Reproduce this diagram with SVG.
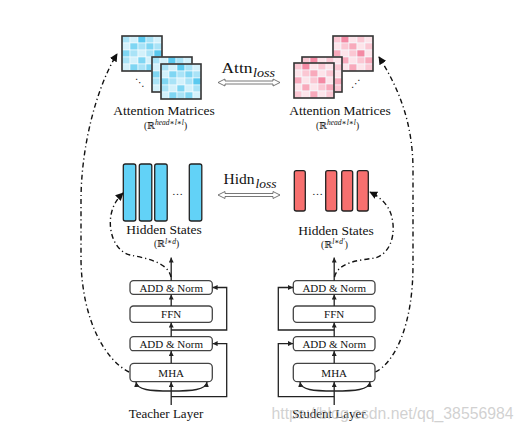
<svg xmlns="http://www.w3.org/2000/svg" xmlns:xlink="http://www.w3.org/1999/xlink" width="524" height="439" viewBox="0 0 524 439">
<style>
.t{font-family:"Liberation Serif","DejaVu Serif",serif;fill:#111;text-anchor:middle}
.box{fill:#fff;stroke:#444;stroke-width:1.3}
.ln{fill:none;stroke:#222;stroke-width:1.3}
.dd{fill:none;stroke:#111;stroke-width:1.4;stroke-dasharray:5 3 1.2 3}
.hb{fill:#62d2f7;stroke:#222;stroke-width:1.3}
.hr{fill:#f7706f;stroke:#222;stroke-width:1.3}
.dbl{fill:#fff;stroke:#555;stroke-width:0.8}
.cb rect,.cp rect{stroke:#f3fbfe;stroke-width:0.6}
.frame{fill:none;stroke:#333;stroke-width:1.6}
</style>
<defs>
<marker id="ah" viewBox="0 0 10 10" refX="10" refY="5" markerWidth="5" markerHeight="5" markerUnits="userSpaceOnUse" orient="auto"><path d="M0,0 L10,5 L0,10 z" fill="#222"/></marker>
<marker id="ahb" viewBox="0 0 10 10" refX="9" refY="5" markerWidth="8" markerHeight="8" markerUnits="userSpaceOnUse" orient="auto"><path d="M0,0 L10,5 L0,10 z" fill="#111"/></marker>
<g id="mb">
<g class="cb">
<rect x="0" y="0" width="8" height="7" fill="#a9e3f7"/><rect x="8" y="0" width="8" height="7" fill="#d3f1fb"/><rect x="16" y="0" width="8" height="7" fill="#5ac9ef"/><rect x="24" y="0" width="8" height="7" fill="#a9e3f7"/><rect x="32" y="0" width="8" height="7" fill="#d3f1fb"/>
<rect x="0" y="7" width="8" height="7" fill="#d3f1fb"/><rect x="8" y="7" width="8" height="7" fill="#7fd6f3"/><rect x="16" y="7" width="8" height="7" fill="#a9e3f7"/><rect x="24" y="7" width="8" height="7" fill="#7fd6f3"/><rect x="32" y="7" width="8" height="7" fill="#a9e3f7"/>
<rect x="0" y="14" width="8" height="7" fill="#7fd6f3"/><rect x="8" y="14" width="8" height="7" fill="#a9e3f7"/><rect x="16" y="14" width="8" height="7" fill="#d3f1fb"/><rect x="24" y="14" width="8" height="7" fill="#a9e3f7"/><rect x="32" y="14" width="8" height="7" fill="#5ac9ef"/>
<rect x="0" y="21" width="8" height="7" fill="#a9e3f7"/><rect x="8" y="21" width="8" height="7" fill="#d3f1fb"/><rect x="16" y="21" width="8" height="7" fill="#7fd6f3"/><rect x="24" y="21" width="8" height="7" fill="#d3f1fb"/><rect x="32" y="21" width="8" height="7" fill="#a9e3f7"/>
<rect x="0" y="28" width="8" height="7" fill="#d3f1fb"/><rect x="8" y="28" width="8" height="7" fill="#7fd6f3"/><rect x="16" y="28" width="8" height="7" fill="#a9e3f7"/><rect x="24" y="28" width="8" height="7" fill="#7fd6f3"/><rect x="32" y="28" width="8" height="7" fill="#d3f1fb"/>
</g>
<rect class="frame" x="0" y="0" width="40" height="35"/>
</g>
<g id="mp">
<g class="cp">
<rect x="0" y="0" width="8" height="7" fill="#fbc7d3"/><rect x="8" y="0" width="8" height="7" fill="#f48aa4"/><rect x="16" y="0" width="8" height="7" fill="#fde4ea"/><rect x="24" y="0" width="8" height="7" fill="#fbc7d3"/><rect x="32" y="0" width="8" height="7" fill="#fde4ea"/>
<rect x="0" y="7" width="8" height="7" fill="#fde4ea"/><rect x="8" y="7" width="8" height="7" fill="#fbc7d3"/><rect x="16" y="7" width="8" height="7" fill="#f8a9bb"/><rect x="24" y="7" width="8" height="7" fill="#fde4ea"/><rect x="32" y="7" width="8" height="7" fill="#fbc7d3"/>
<rect x="0" y="14" width="8" height="7" fill="#f8a9bb"/><rect x="8" y="14" width="8" height="7" fill="#fde4ea"/><rect x="16" y="14" width="8" height="7" fill="#fbc7d3"/><rect x="24" y="14" width="8" height="7" fill="#f48aa4"/><rect x="32" y="14" width="8" height="7" fill="#fde4ea"/>
<rect x="0" y="21" width="8" height="7" fill="#fde4ea"/><rect x="8" y="21" width="8" height="7" fill="#f8a9bb"/><rect x="16" y="21" width="8" height="7" fill="#fde4ea"/><rect x="24" y="21" width="8" height="7" fill="#fbc7d3"/><rect x="32" y="21" width="8" height="7" fill="#f8a9bb"/>
<rect x="0" y="28" width="8" height="7" fill="#fbc7d3"/><rect x="8" y="28" width="8" height="7" fill="#fde4ea"/><rect x="16" y="28" width="8" height="7" fill="#f8a9bb"/><rect x="24" y="28" width="8" height="7" fill="#fde4ea"/><rect x="32" y="28" width="8" height="7" fill="#fbc7d3"/>
</g>
<rect class="frame" x="0" y="0" width="40" height="35"/>
</g>
</defs>
<rect width="524" height="439" fill="#fff"/>

<g id="teacher-attention">
<use href="#mb" x="122" y="36"/>
<use href="#mb" x="152" y="57"/>
<use href="#mb" x="161" y="64"/>
<text x="140" y="86" style="font-family:'DejaVu Sans',sans-serif;font-size:10px;fill:#222" text-anchor="middle">⋱</text>
<text class="t" x="164" y="115" font-size="13.5">Attention Matrices</text>
<text class="t" x="165.5" y="128.5" font-size="9.5">(ℝ<tspan dy="-3.5" font-size="7.5" font-style="italic">head∗l∗l</tspan><tspan dy="3.5">)</tspan></text>
</g>

<g id="student-attention">
<use href="#mp" x="333" y="36"/>
<use href="#mp" x="302" y="57"/>
<use href="#mp" x="294" y="63"/>
<text x="356" y="87" style="font-family:'DejaVu Sans',sans-serif;font-size:10px;fill:#222" text-anchor="middle">⋰</text>
<text class="t" x="340" y="114.5" font-size="13.5">Attention Matrices</text>
<text class="t" x="337.5" y="128.5" font-size="9.5">(ℝ<tspan dy="-3.5" font-size="7.5" font-style="italic">head∗l∗l</tspan><tspan dy="3.5">)</tspan></text>
</g>

<g id="attn-loss">
<text class="t" x="237" y="73" font-size="14.5" textLength="31" lengthAdjust="spacingAndGlyphs">Attn</text>
<text class="t" x="264" y="76.5" font-size="12" font-style="italic" textLength="22" lengthAdjust="spacingAndGlyphs">loss</text>
<polygon class="dbl" points="218,82.5 225,79 225,81 273,81 273,79 280,82.5 273,86 273,84 225,84 225,86"/>
</g>

<g id="teacher-hidden">
<rect class="hb" x="123.3" y="164" width="12.5" height="57" rx="2"/>
<rect class="hb" x="139.3" y="164" width="12.5" height="57" rx="2"/>
<rect class="hb" x="154.7" y="164" width="12.5" height="57" rx="2"/>
<rect class="hb" x="189.3" y="164" width="12.5" height="57" rx="2"/>
<text class="t" x="177.5" y="195" font-size="11">…</text>
<text class="t" x="164" y="234" font-size="13.5">Hidden States</text>
<text class="t" x="166.5" y="247" font-size="9.5">(ℝ<tspan dy="-3.5" font-size="7.5" font-style="italic">l∗d</tspan><tspan dy="3.5">)</tspan></text>
</g>

<g id="student-hidden">
<rect class="hr" x="294.3" y="170.7" width="11" height="40.3" rx="2"/>
<rect class="hr" x="325.7" y="170.7" width="11" height="40.3" rx="2"/>
<rect class="hr" x="341.7" y="170.7" width="11" height="40.3" rx="2"/>
<rect class="hr" x="357.3" y="170.7" width="11" height="40.3" rx="2"/>
<text class="t" x="317.5" y="195" font-size="11">…</text>
<text class="t" x="336" y="234.5" font-size="13.5">Hidden States</text>
<text class="t" x="334.5" y="247.5" font-size="9.5">(ℝ<tspan dy="-3.5" font-size="7.5" font-style="italic">l∗d′</tspan><tspan dy="3.5">)</tspan></text>
</g>

<g id="hidn-loss">
<text class="t" x="239" y="184" font-size="14.5" textLength="31" lengthAdjust="spacingAndGlyphs">Hidn</text>
<text class="t" x="266" y="188" font-size="12" font-style="italic" textLength="21" lengthAdjust="spacingAndGlyphs">loss</text>
<polygon class="dbl" points="218,195 225,191.5 225,193.5 273,193.5 273,191.5 280,195 273,198.5 273,196.5 225,196.5 225,198.5"/>
</g>

<g id="t-addnorm1"><rect class="box" x="130" y="280.7" width="82.3" height="13.6" rx="3.5"/><text class="t" x="171.2" y="291.5" font-size="11">ADD &amp; Norm</text></g>
<g id="t-ffn"><rect class="box" x="130" y="306" width="82.3" height="16.3" rx="3.5"/><text class="t" x="171.2" y="318" font-size="11">FFN</text></g>
<g id="t-addnorm2"><rect class="box" x="130" y="336.7" width="82.3" height="14" rx="3.5"/><text class="t" x="171.2" y="347.5" font-size="11">ADD &amp; Norm</text></g>
<g id="t-mha"><rect class="box" x="130" y="363.3" width="82.3" height="18.4" rx="4"/><text class="t" x="171.2" y="376.5" font-size="11">MHA</text></g>
<g id="t-label"><text class="t" x="166" y="418" font-size="13">Teacher Layer</text></g>

<g id="s-addnorm1"><rect class="box" x="293.3" y="280.7" width="81.7" height="13.6" rx="3.5"/><text class="t" x="334.2" y="291.5" font-size="11">ADD &amp; Norm</text></g>
<g id="s-ffn"><rect class="box" x="293.3" y="306" width="81.7" height="16.3" rx="3.5"/><text class="t" x="334.2" y="318" font-size="11">FFN</text></g>
<g id="s-addnorm2"><rect class="box" x="293.3" y="336.7" width="81.7" height="14" rx="3.5"/><text class="t" x="334.2" y="347.5" font-size="11">ADD &amp; Norm</text></g>
<g id="s-mha"><rect class="box" x="293.3" y="363.3" width="81.7" height="18.4" rx="4"/><text class="t" x="334.2" y="376.5" font-size="11">MHA</text></g>
<g id="s-label"><text class="t" x="329" y="418" font-size="13">Student Layer</text></g>

<g id="connectors">
<path class="ln" d="M171.2,405 V382" marker-end="url(#ah)"/>
<path class="ln" d="M171.2,391 C150,391 137,390 136,382" marker-end="url(#ah)"/>
<path class="ln" d="M171.2,391 C192,391 206,390 207,382" marker-end="url(#ah)"/>
<path class="ln" d="M171.2,396.7 H226.7 V343.6 H212.6" marker-end="url(#ah)"/>
<path class="ln" d="M171.2,363.3 V351" marker-end="url(#ah)"/>
<path class="ln" d="M171.2,336.7 V322.6" marker-end="url(#ah)"/>
<path class="ln" d="M171.2,330 H226.7 V287.5 H212.6" marker-end="url(#ah)"/>
<path class="ln" d="M171.2,306 V294.6" marker-end="url(#ah)"/>
<path class="ln" d="M171.2,280.7 V257.5" marker-end="url(#ah)"/>
<path class="ln" d="M334.2,405 V382" marker-end="url(#ah)"/>
<path class="ln" d="M334.2,391 C313,391 301,390 300,382" marker-end="url(#ah)"/>
<path class="ln" d="M334.2,391 C355,391 369,390 370,382" marker-end="url(#ah)"/>
<path class="ln" d="M334.2,396.7 H278.3 V343.6 H293" marker-end="url(#ah)"/>
<path class="ln" d="M334.2,363.3 V351" marker-end="url(#ah)"/>
<path class="ln" d="M334.2,336.7 V322.6" marker-end="url(#ah)"/>
<path class="ln" d="M334.2,330 H278.3 V287.5 H293" marker-end="url(#ah)"/>
<path class="ln" d="M334.2,306 V294.6" marker-end="url(#ah)"/>
<path class="ln" d="M334.2,280.7 V257.5" marker-end="url(#ah)"/>
<path class="dd" d="M129,372 C105,360 82,320 81,260 L81,200 C81,150 95,90 117,54" marker-end="url(#ahb)"/>
<path class="dd" d="M171,277 C168,262 145,258 130,255 C115,251 108,232 111,215 C113,205 117,199 123,193" marker-end="url(#ahb)"/>
<path class="dd" d="M375.5,372 C395,362 413,325 413,265 L413,170 C413,125 400,90 379,57" marker-end="url(#ahb)"/>
<path class="dd" d="M334.5,277 C338,262 360,260 375,258 C390,254 396,235 392,218 C390,207 382,198 370,192" marker-end="url(#ahb)"/>
</g>

<text x="271.5" y="419" font-family="Liberation Sans, Arial, sans-serif" font-size="16" fill="#bdbdbd" fill-opacity="0.7" textLength="242" lengthAdjust="spacingAndGlyphs">https://blog.csdn.net/qq_38556984</text>
</svg>
